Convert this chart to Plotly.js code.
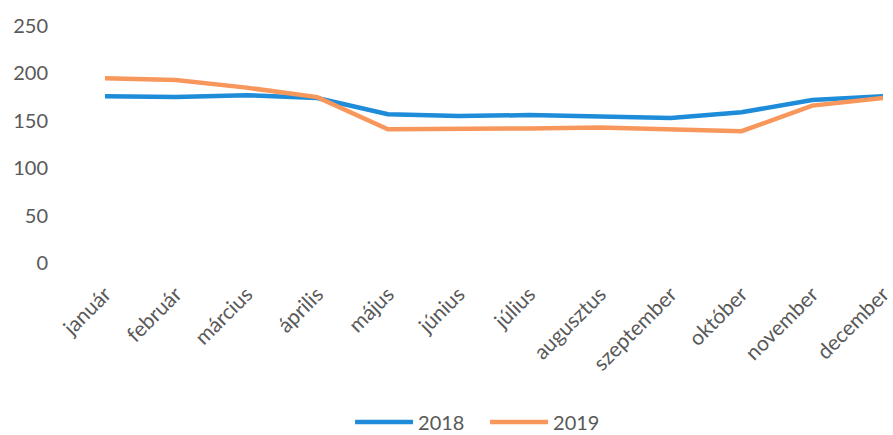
<!DOCTYPE html>
<html>
<head>
<meta charset="utf-8">
<script src="https://cdn.plot.ly/plotly-3.0.1.min.js"></script>
<style>html,body{margin:0;padding:0;background:#fff}#chart{width:893px;height:435px}</style>
</head>
<body>
<div id="chart"></div>
<script>
const months = ["január","február","március","április","május","június","július","augusztus","szeptember","október","november","december"];
const series2018 = [176,175,177,174,157,155,156,155,153,159,172,176];
const series2019 = [195,193,185,175,141,141,142,143,141,139,166,174];
const yTicks = [0,50,100,150,200,250];

const traces = [
  {x: months, y: series2018, name: "2018", type: "scatter", mode: "lines",
   line: {color: "#1E8CD8", width: 4.5}},
  {x: months, y: series2019, name: "2019", type: "scatter", mode: "lines",
   line: {color: "#F7975C", width: 4.5}}
];

const layout = {
  width: 893, height: 435,
  margin: {l: 105, r: 10, t: 26, b: 172},
  paper_bgcolor: "#fff", plot_bgcolor: "#fff",
  font: {family: "Lato, 'Open Sans', sans-serif", size: 20, color: "#595959"},
  showlegend: true,
  legend: {orientation: "h", xref: "container", yref: "container",
           x: 0.392, xanchor: "left", y: 0.03, yanchor: "middle",
           font: {size: 20, color: "#595959"}, itemwidth: 58,
           entrywidth: 62, entrywidthmode: "pixels", traceorder: "normal"},
  xaxis: {type: "category", range: [0, 11], showgrid: false, zeroline: false,
          showline: false, ticks: "", tickangle: -45, ticklabelstandoff: 14,
          tickfont: {size: 21, color: "#595959"}},
  yaxis: {range: [0, 250], tickvals: yTicks, showgrid: false, zeroline: false,
          showline: false, ticks: "", ticklabelstandoff: 56,
          tickfont: {size: 20, color: "#595959"}}
};

Plotly.newPlot("chart", traces, layout, {displayModeBar: false, staticPlot: true});
</script>
</body>
</html>
